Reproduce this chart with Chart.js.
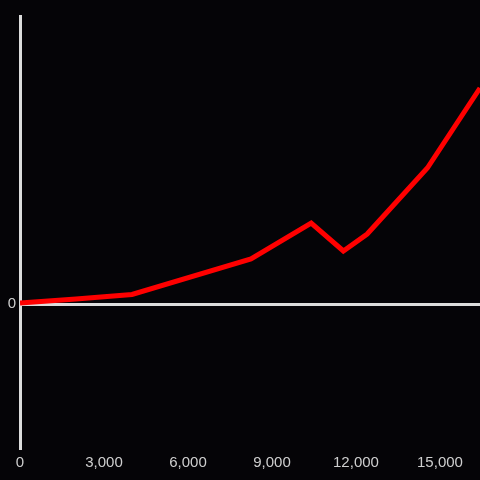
<!DOCTYPE html>
<html>
<head>
<meta charset="utf-8">
<script src="https://cdn.jsdelivr.net/npm/chart.js@4"></script>
<style>
  html, body { margin: 0; padding: 0; background: #050407; }
  canvas { display: block; }
</style>
</head>
<body>
<canvas id="chart" width="480" height="480"></canvas>
<script>
// values (y in arbitrary units, 0 = baseline)
var xValues = [0, 2000, 4000, 8250, 10400, 11550, 12400, 14550, 16430];
var yValues = [1, 5, 9.5, 45, 81, 53, 70, 136, 216];

var xTicks = [0, 3000, 6000, 9000, 12000, 15000];
var yTicks = [0];

var xMin = 0, xMax = 16430;
var yMin = -144, yMax = 288;

var points = xValues.map(function (x, i) { return { x: x, y: yValues[i] }; });

var axisColor = '#dcdcdc';
var labelColor = '#cfcfcf';

var ctx = document.getElementById('chart').getContext('2d');
var myChart = new Chart(ctx, {
    type: 'line',
    data: {
        datasets: [{
            data: points,
            borderColor: '#ff0000',
            borderWidth: 5,
            pointRadius: 0,
            tension: 0,
            fill: false
        }]
    },
    options: {
        responsive: false,
        animation: false,
        layout: { padding: { top: 16, right: 0, left: 0, bottom: 0 } },
        plugins: { legend: { display: false }, tooltip: { enabled: false } },
        scales: {
            x: {
                type: 'linear',
                min: xMin,
                max: xMax,
                afterBuildTicks: function (s) { s.ticks = xTicks.map(function (v) { return { value: v }; }); },
                afterFit: function (s) { s.height = 32; },
                border: { display: false },
                grid: { display: false, drawTicks: false },
                ticks: {
                    color: labelColor,
                    padding: 6,
                    maxRotation: 0,
                    autoSkip: false,
                    font: { family: 'Liberation Sans', size: 15 }
                }
            },
            y: {
                min: yMin,
                max: yMax,
                afterBuildTicks: function (s) { s.ticks = yTicks.map(function (v) { return { value: v }; }); },
                afterFit: function (s) { s.width = 20; },
                border: { display: true, color: axisColor, width: 3 },
                grid: {
                    drawTicks: false,
                    color: axisColor,
                    lineWidth: 3
                },
                ticks: {
                    color: labelColor,
                    padding: 4,
                    font: { family: 'Liberation Sans', size: 15 }
                }
            }
        }
    }
});
</script>
</body>
</html>
